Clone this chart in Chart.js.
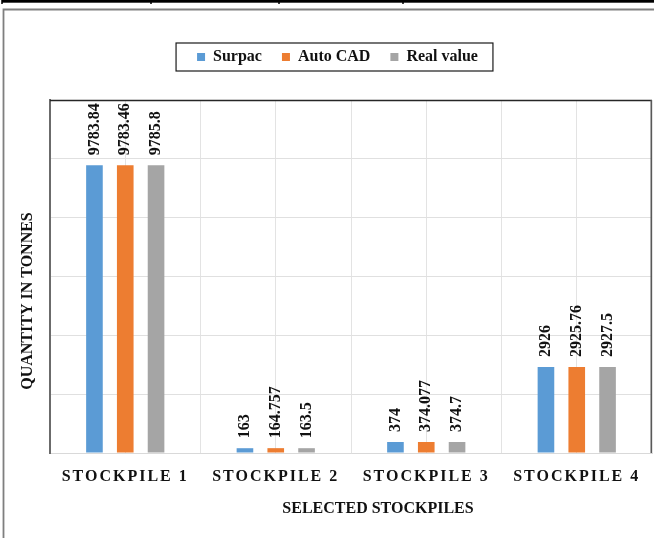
<!DOCTYPE html>
<html>
<head>
<meta charset="utf-8">
<script src="https://cdn.jsdelivr.net/npm/chart.js@4/dist/chart.umd.min.js"></script>
<style>
  html, body { margin: 0; padding: 0; background: #fff; }
  #wrap { width: 654px; height: 538px; position: relative; }
</style>
</head>
<body>
<div id="wrap"><canvas id="c" width="654" height="538"></canvas></div>
<script>
// Stockpile quantities (tonnes) by measuring method
const categories = ['STOCKPILE 1', 'STOCKPILE 2', 'STOCKPILE 3', 'STOCKPILE 4'];
const seriesNames = ['Surpac', 'Auto CAD', 'Real value'];
const surpac = [9783.84, 163, 374, 2926];
const autoCad = [9783.46, 164.757, 374.077, 2925.76];
const realValue = [9785.8, 163.5, 374.7, 2927.5];
const yMin = 0;
const yMax = 12000;
const yStep = 2000;
const xTitle = 'SELECTED STOCKPILES';
const yTitle = 'QUANTITY IN TONNES';

const SERIF = '"Liberation Serif", "Times New Roman", serif';
const colors = ['#5B9BD5', '#ED7D31', '#A5A5A5'];
const seriesValues = [surpac, autoCad, realValue];

// half-category slots, used only for the vertical grid lines
const gridSlots = categories.flatMap(() => ['', '']);

const decorations = {
  id: 'decorations',
  beforeLayout(chart) {
    // leave extra room between the legend row and the plot box
    const lg = chart.legend;
    if (lg && !lg._tallFit) {
      const fit = lg.fit;
      lg.fit = function () { fit.call(this); this.height += 25; };
      lg._tallFit = true;
    }
  },
  beforeDraw(chart) {
    const ctx = chart.ctx;
    ctx.save();
    ctx.fillStyle = '#fff';
    ctx.fillRect(0, 0, chart.width, chart.height);
    // table rule along the top edge
    ctx.fillStyle = '#000';
    ctx.fillRect(2, 0, chart.width - 2, 2.7);
    [2, 151, 279, 403].forEach(x => ctx.fillRect(x - 0.75, 0, 1.5, 4));
    // outer chart frame
    ctx.strokeStyle = '#7f7f7f';
    ctx.lineWidth = 1.8;
    ctx.beginPath();
    ctx.moveTo(3.5, chart.height + 2);
    ctx.lineTo(3.5, 9.5);
    ctx.lineTo(chart.width + 2, 9.5);
    ctx.stroke();
    ctx.restore();

    // letter-spaced category labels
    const sc = chart.scales.x;
    if (sc && !sc._spaced) {
      const base = sc.drawLabels;
      sc.drawLabels = function (area) {
        const c = this.ctx;
        c.save();
        c.letterSpacing = '2px';
        base.call(this, area);
        c.restore();
      };
      sc._spaced = true;
    }
  },
  afterDatasetsDraw(chart) {
    const ctx = chart.ctx;
    ctx.save();
    ctx.font = 'bold 16px ' + SERIF;
    ctx.fillStyle = '#111';
    ctx.textAlign = 'left';
    ctx.textBaseline = 'middle';
    chart.data.datasets.forEach((ds, i) => {
      chart.getDatasetMeta(i).data.forEach((bar, j) => {
        ctx.save();
        ctx.translate(bar.x, bar.y - 10);
        ctx.rotate(-Math.PI / 2);
        ctx.fillText(String(ds.data[j]), 0, 0);
        ctx.restore();
      });
    });
    ctx.restore();
  },
  afterDraw(chart) {
    const ctx = chart.ctx;
    const a = chart.chartArea;
    ctx.save();
    // plot box: top and right edges
    ctx.lineWidth = 1.5;
    ctx.strokeStyle = '#262626';
    ctx.beginPath();
    ctx.moveTo(a.left, a.top + 0.5);
    ctx.lineTo(a.right, a.top + 0.5);
    ctx.stroke();
    ctx.strokeStyle = '#595959';
    ctx.beginPath();
    ctx.moveTo(a.right - 0.75, a.top);
    ctx.lineTo(a.right - 0.75, a.bottom);
    ctx.stroke();

    // frame around the legend
    const hb = chart.legend.legendHitBoxes;
    if (hb && hb.length) {
      const first = hb[0], last = hb[hb.length - 1];
      const cy = first.top + first.height / 2;
      const l = first.left - 21, r = last.left + last.width + 15;
      ctx.strokeStyle = '#1a1a1a';
      ctx.lineWidth = 1.2;
      ctx.strokeRect(l, cy - 14, r - l, 28);
    }

    // axis titles
    ctx.fillStyle = '#111';
    ctx.textAlign = 'center';
    ctx.textBaseline = 'middle';
    ctx.font = 'bold 16px ' + SERIF;
    ctx.fillText(xTitle, 378, 509);
    ctx.translate(28, 301);
    ctx.rotate(-Math.PI / 2);
    ctx.font = 'bold 16px ' + SERIF;
    ctx.fillText(yTitle, 0, 0);
    ctx.restore();
  }
};

new Chart(document.getElementById('c'), {
  type: 'bar',
  data: {
    labels: categories,
    datasets: seriesNames.map((name, i) => ({
      label: name,
      data: seriesValues[i],
      backgroundColor: colors[i],
      borderWidth: 0,
      xAxisID: 'x',
      yAxisID: 'y'
    }))
  },
  options: {
    responsive: false,
    animation: false,
    events: [],
    layout: { padding: { left: 23, right: 2, top: 29, bottom: 0 } },
    datasets: { bar: { categoryPercentage: 0.614, barPercentage: 0.54 } },
    plugins: {
      tooltip: { enabled: false },
      legend: {
        position: 'top',
        labels: {
          font: { family: SERIF, size: 16, weight: 'bold' },
          color: '#111',
          boxWidth: 8,
          boxHeight: 8,
          padding: 20
        }
      }
    },
    scales: {
      x: {
        position: 'bottom',
        offset: true,
        grid: { display: false },
        border: { color: '#d9d9d9', width: 1 },
        ticks: {
          font: { family: SERIF, size: 16, weight: 'bold' },
          color: '#111',
          padding: 6,
          maxRotation: 0
        },
        afterFit(s) { s.height = 85; }
      },
      xg: {
        type: 'category',
        axis: 'x',
        labels: gridSlots,
        position: 'bottom',
        offset: true,
        grid: { offset: true, color: '#e3e3e3', drawTicks: false },
        ticks: { display: false },
        border: { display: false },
        afterFit(s) { s.height = 0; }
      },
      y: {
        min: yMin,
        max: yMax,
        ticks: { display: false, stepSize: yStep },
        grid: { color: '#e0e0e0', drawTicks: false },
        border: { color: '#6b6b6b', width: 2 },
        afterFit(s) { s.width = 27; }
      }
    }
  },
  plugins: [decorations]
});
</script>
</body>
</html>
